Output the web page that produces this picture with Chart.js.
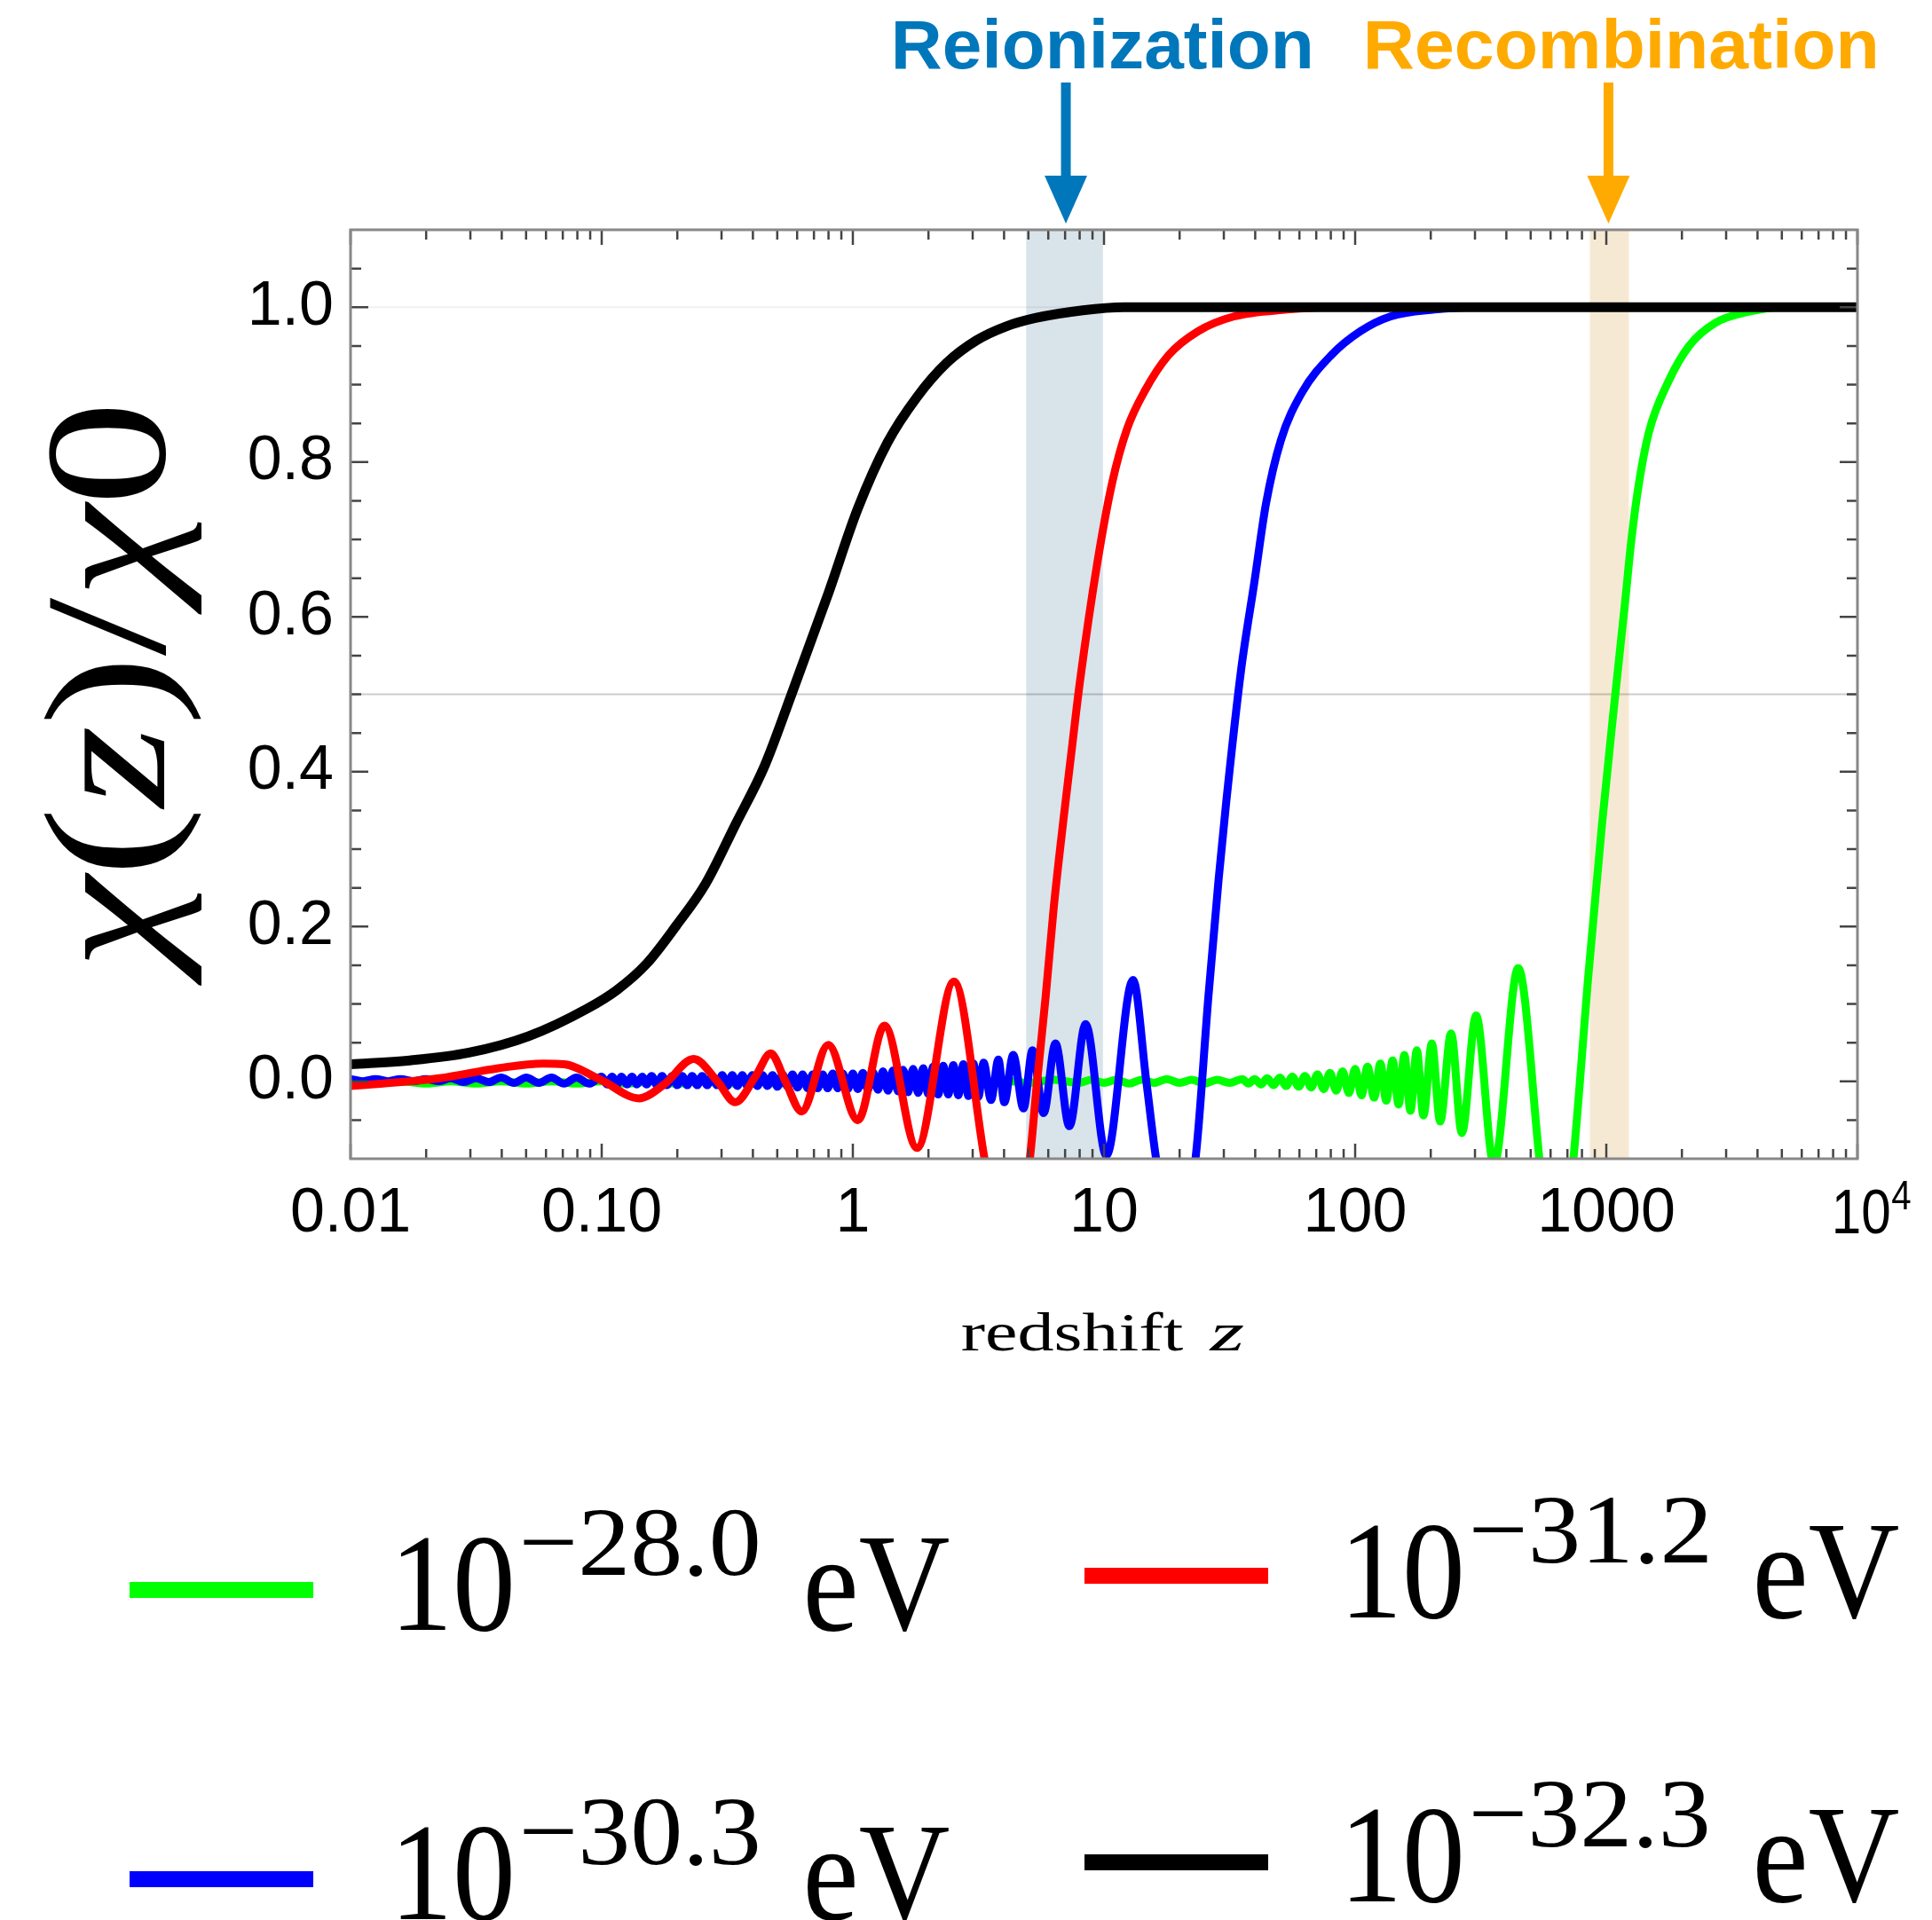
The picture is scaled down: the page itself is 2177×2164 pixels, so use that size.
<!DOCTYPE html>
<html lang="en">
<head>
<meta charset="UTF-8">
<title>chi(z)/chi0 versus redshift</title>
<script src="https://cdn.jsdelivr.net/npm/chart.js"></script>
<style>
  html, body { margin: 0; padding: 0; background: #fff; }
  #wrap { width: 2177px; height: 2164px; position: relative; }
</style>
</head>
<body>
<div id="wrap"><canvas id="chart"></canvas></div>
<script>
// ---- axes ----
const xTickValues = [0.01, 0.1, 1, 10, 100, 1000, 10000];
const xTickLabels = ['0.01', '0.10', '1', '10', '100', '1000', ''];
const xLastBase = '10';
const xLastSup = '4';
const yTickValues = [0, 0.2, 0.4, 0.6, 0.8, 1.0];
const yTickLabels = ['0.0', '0.2', '0.4', '0.6', '0.8', '1.0'];
const yMinorTicks = [-0.05, 0.05, 0.1, 0.15, 0.25, 0.3, 0.35, 0.45, 0.5, 0.55, 0.65, 0.7, 0.75, 0.85, 0.9, 0.95, 1.05];

// ---- shaded epochs ----
const epochNames = ['Reionization', 'Recombination'];
const epochStart = [4.9, 860];
const epochEnd = [9.9, 1230];
const epochArrowZ = [7.05, 1020];

// ---- legend (masses) ----
const massExponents = ['−28.0', '−31.2', '−30.3', '−32.3'];

// ---- series: m = 1e-28.0 eV (green) ----
const greenZ = [
  0.0100, 0.0126, 0.0158, 0.0200, 0.0251, 0.0316, 0.0398, 0.0501, 0.0631, 0.0794,
  0.100, 0.126, 0.158, 0.200, 0.251, 0.316, 0.398, 0.501, 0.631, 0.794,
  1.00, 1.26, 1.58, 2.00, 2.51, 3.16, 3.98, 5.01, 6.31, 7.94,
  8.91, 10.0, 11.2, 12.6, 14.1, 15.8, 17.8, 20.0, 22.4, 25.1, 28.2, 31.6,
  35.5, 37.6, 39.8, 42.2, 44.7, 47.3, 50.1, 53.1, 56.2, 59.6,
  63.1, 66.8, 70.8, 75.0, 79.4, 84.1, 89.1, 94.4, 100, 106,
  112, 119, 126, 133, 141, 149, 157, 166,
  176, 187, 202, 218, 241, 266, 303, 357, 446, 543, 631, 738,
  850, 960, 1070, 1193, 1259, 1348, 1482, 1767, 2137, 2728, 3676, 5000, 10000
];
const greenY = [
  0.000, -0.003, 0.000, -0.003, 0.000, -0.003, 0.000, -0.003, 0.000, -0.003,
  0.000, -0.003, 0.000, -0.003, 0.000, -0.003, 0.000, -0.003, 0.000, -0.003,
  0.000, -0.003, 0.000, -0.003, 0.000, -0.003, 0.001, -0.002, 0.002, -0.002,
  0.002, -0.002, 0.002, -0.003, 0.002, -0.002, 0.003, -0.002, 0.002, -0.003, 0.002, -0.002,
  0.003, -0.003, 0.003, -0.004, 0.004, -0.005, 0.005, -0.006, 0.006, -0.007,
  0.007, -0.008, 0.009, -0.010, 0.011, -0.012, 0.013, -0.015, 0.016, -0.018,
  0.019, -0.021, 0.023, -0.025, 0.027, -0.030, 0.034, -0.038,
  0.040, -0.044, 0.049, -0.052, 0.062, -0.067, 0.085, -0.108, 0.146, -0.104, -0.300, -0.104,
  0.140, 0.330, 0.480, 0.625, 0.700, 0.772, 0.840, 0.904, 0.950, 0.980, 0.994, 1.0, 1.0
];

// ---- series: m = 1e-30.3 eV (blue) ----
const blueZ = [
  0.0100, 0.0112, 0.0126, 0.0141, 0.0158, 0.0178, 0.0200, 0.0224, 0.0251, 0.0282,
  0.0316, 0.0355, 0.0398, 0.0447, 0.0501, 0.0562, 0.0631, 0.0708, 0.0794, 0.0891,
  0.100, 0.105, 0.110, 0.115, 0.120, 0.126, 0.132, 0.138, 0.145, 0.151,
  0.158, 0.166, 0.174, 0.182, 0.191, 0.200, 0.209, 0.219, 0.229, 0.240,
  0.251, 0.263, 0.275, 0.288, 0.302, 0.316, 0.331, 0.347, 0.363, 0.380,
  0.398, 0.417, 0.437, 0.457, 0.479, 0.501, 0.525, 0.550, 0.575, 0.603,
  0.631, 0.661, 0.692, 0.724, 0.759, 0.794, 0.832, 0.871, 0.912, 0.955,
  1.000, 1.047, 1.096, 1.148, 1.202, 1.259, 1.318, 1.380, 1.445, 1.514,
  1.585, 1.660, 1.738, 1.820, 1.905, 1.995, 2.089, 2.188, 2.291, 2.399,
  2.512, 2.630, 2.754, 2.884, 3.020, 3.162,
  3.316, 3.549, 3.798, 4.01, 4.35, 4.78, 5.19, 5.75, 6.41, 7.28, 8.45, 10.22, 13.05, 14.74, 16.2, 19.0,
  23.06, 26.05, 28.6, 30.65, 35.1, 39.7, 44.2, 50.6, 61.2, 80.3, 105, 138, 207, 300, 10000
];
const blueY = [
  0.003, 0.000, 0.003, 0.000, 0.003, 0.000, 0.003, 0.000, 0.004, -0.001,
  0.004, -0.001, 0.005, -0.002, 0.005, -0.002, 0.005, -0.003, 0.005, -0.003,
  0.006, -0.004, 0.006, -0.004, 0.006, -0.004, 0.006, -0.004, 0.006, -0.004,
  0.007, -0.005, 0.007, -0.005, 0.007, -0.005, 0.007, -0.005, 0.007, -0.005,
  0.007, -0.005, 0.007, -0.005, 0.008, -0.006, 0.008, -0.006, 0.008, -0.006,
  0.008, -0.006, 0.008, -0.006, 0.008, -0.007, 0.009, -0.007, 0.009, -0.008,
  0.009, -0.009, 0.009, -0.009, 0.009, -0.009, 0.010, -0.009, 0.010, -0.010,
  0.010, -0.010, 0.011, -0.011, 0.012, -0.011, 0.013, -0.012, 0.014, -0.013,
  0.015, -0.014, 0.016, -0.015, 0.017, -0.016, 0.019, -0.017, 0.020, -0.017,
  0.021, -0.018, 0.022, -0.019, 0.023, -0.020,
  0.024, -0.024, 0.028, -0.027, 0.034, -0.035, 0.040, -0.041, 0.049, -0.058, 0.074, -0.096, 0.131, 0.000, -0.104, -0.200,
  -0.104, 0.110, 0.261, 0.360, 0.530, 0.645, 0.747, 0.828, 0.889, 0.938, 0.969, 0.988, 0.997, 1.0, 1.0
];

// ---- series: m = 1e-31.2 eV (red) ----
const redZ = [
  0.01, 0.0226, 0.0388, 0.0583, 0.0709, 0.1003, 0.1408, 0.1772, 0.2325, 0.2888,
  0.340, 0.4108, 0.4706, 0.5388, 0.6255, 0.798, 1.047, 1.337, 1.801, 2.528,
  3.361, 4.15, 5.05, 5.40, 5.86, 6.31, 6.90, 7.48, 8.01, 9.42,
  10.79, 12.36, 14.54, 18.06, 23.69, 32.8, 53.5, 80, 10000
];
const redY = [
  -0.006, 0.004, 0.017, 0.023, 0.022, 0.001, -0.022, -0.004, 0.029, 0.000,
  -0.027, 0.007, 0.036, 0.000, -0.039, 0.047, -0.050, 0.072, -0.086, 0.129,
  -0.104, -0.250, -0.104, -0.004, 0.110, 0.225, 0.339, 0.435, 0.515, 0.671,
  0.774, 0.843, 0.892, 0.938, 0.969, 0.988, 0.997, 1.0, 1.0
];

// ---- series: m = 1e-32.3 eV (black) ----
const blackZ = [0.01, 0.0172, 0.0296, 0.0509, 0.0876, 0.115, 0.151, 0.198, 0.259, 0.340, 0.446, 0.57,
  0.798, 1.047, 1.373, 1.801, 2.363, 3.10, 4.06, 5.33, 8.23, 12, 20, 10000];
const blackY = [0.022, 0.027, 0.037, 0.058, 0.094, 0.118, 0.152, 0.201, 0.255, 0.331, 0.408, 0.500,
  0.630, 0.740, 0.825, 0.884, 0.928, 0.957, 0.975, 0.986, 0.996, 1.0, 1.0, 1.0];

const SANS = '"Liberation Sans", Arial, Helvetica, sans-serif';
const SERIF = '"Liberation Serif", "Times New Roman", Times, serif';

function pts(zs, ys) {
  return zs.map((z, i) => ({ x: z, y: ys[i] }));
}

// draw text so that its ink box starts at `left` and is `width` wide
function inkText(ctx, text, left, base, width) {
  ctx.textAlign = 'left';
  ctx.textBaseline = 'alphabetic';
  const m = ctx.measureText(text);
  const w = m.actualBoundingBoxLeft + m.actualBoundingBoxRight;
  ctx.save();
  ctx.translate(left, base);
  ctx.scale(width / w, 1);
  ctx.fillText(text, m.actualBoundingBoxLeft, 0);
  ctx.restore();
}

const decor = {
  id: 'decor',
  beforeDatasetsDraw(chart) {
    const { ctx, chartArea: a, scales: { x, y } } = chart;
    ctx.save();
    const fills = ['rgb(217,227,234)', 'rgb(246,233,212)'];
    epochStart.forEach((s, i) => {
      const x0 = x.getPixelForValue(s);
      const x1 = x.getPixelForValue(epochEnd[i]);
      ctx.fillStyle = fills[i];
      ctx.fillRect(x0, a.top, x1 - x0, a.bottom - a.top);
    });
    ctx.lineWidth = 2;
    ctx.strokeStyle = 'rgba(0,0,0,0.2)';
    let py = y.getPixelForValue(0.5);
    ctx.beginPath(); ctx.moveTo(a.left, py); ctx.lineTo(a.right, py); ctx.stroke();
    ctx.strokeStyle = 'rgba(0,0,0,0.06)';
    py = y.getPixelForValue(1.0);
    ctx.beginPath(); ctx.moveTo(a.left, py); ctx.lineTo(a.right, py); ctx.stroke();
    ctx.restore();
  },
  afterDatasetsDraw(chart) {
    const { ctx, chartArea: a, scales: { x, y } } = chart;
    ctx.save();

    // frame ticks, drawn inward
    ctx.strokeStyle = '#444';
    ctx.lineWidth = 2.5;
    ctx.beginPath();
    xTickValues.forEach((d, i) => {
      const px = x.getPixelForValue(d);
      ctx.moveTo(px, a.bottom); ctx.lineTo(px, a.bottom - 17);
      ctx.moveTo(px, a.top); ctx.lineTo(px, a.top + 17);
      if (i < xTickValues.length - 1) {
        for (let k = 2; k <= 9; k++) {
          const mx = x.getPixelForValue(k * d);
          ctx.moveTo(mx, a.bottom); ctx.lineTo(mx, a.bottom - 11);
          ctx.moveTo(mx, a.top); ctx.lineTo(mx, a.top + 11);
        }
      }
    });
    yTickValues.forEach(v => {
      const py = y.getPixelForValue(v);
      ctx.moveTo(a.left, py); ctx.lineTo(a.left + 20, py);
      ctx.moveTo(a.right, py); ctx.lineTo(a.right - 20, py);
    });
    yMinorTicks.forEach(v => {
      const py = y.getPixelForValue(v);
      ctx.moveTo(a.left, py); ctx.lineTo(a.left + 12, py);
      ctx.moveTo(a.right, py); ctx.lineTo(a.right - 12, py);
    });
    ctx.stroke();

    // frame
    ctx.strokeStyle = '#888';
    ctx.lineWidth = 3;
    ctx.strokeRect(a.left, a.top, a.right - a.left, a.bottom - a.top);

    ctx.fillStyle = '#000';
    // last x label: 10^4
    const lx = x.getPixelForValue(10000);
    ctx.font = `70px ${SANS}`;
    inkText(ctx, xLastBase, lx - 25, 1390, 61);
    ctx.font = `46px ${SANS}`;
    inkText(ctx, xLastSup, lx + 39, 1363, 21);

    // x title
    ctx.font = `62px ${SERIF}`;
    inkText(ctx, 'redshift', 1084, 1522, 249);
    ctx.font = `italic 62px ${SERIF}`;
    inkText(ctx, 'z', 1362, 1522, 40);

    // y title, rotated
    const parts = [['χ', 'italic'], ['(', 'normal'], ['z', 'italic'], [')', 'normal'],
                   ['/', 'normal'], ['χ', 'italic'], ['0', 'normal']];
    const size = 195;
    ctx.save();
    ctx.translate(185, 772);
    ctx.rotate(-Math.PI / 2);
    ctx.textAlign = 'left';
    ctx.textBaseline = 'alphabetic';
    let total = 0;
    const widths = parts.map(([t, st]) => {
      ctx.font = `${st} ${size}px ${SERIF}`;
      const w = ctx.measureText(t).width;
      total += w;
      return w;
    });
    ctx.scale(640 / total, 1);
    let tx = -total / 2;
    parts.forEach(([t, st], i) => {
      ctx.font = `${st} ${size}px ${SERIF}`;
      ctx.fillText(t, tx, 0);
      tx += widths[i];
    });
    ctx.restore();

    // epoch labels and arrows
    const epochColors = ['#0077bb', '#ffaa00'];
    const textLeft = [1009, 1541];
    const textWidth = [467, 572];
    ctx.font = `bold 78px ${SANS}`;
    epochNames.forEach((name, i) => {
      ctx.fillStyle = epochColors[i];
      inkText(ctx, name, textLeft[i], 77, textWidth[i]);
      const ax = x.getPixelForValue(epochArrowZ[i]);
      ctx.fillRect(ax - 5.5, 93, 11, 110);
      ctx.beginPath();
      ctx.moveTo(ax - 24, 198); ctx.lineTo(ax + 24, 198); ctx.lineTo(ax, 252);
      ctx.closePath();
      ctx.fill();
    });

    // legend (2 x 2)
    const slots = [
      { sx: 146, sy: 1792, tx: 451, base: 1837 },
      { sx: 1222, sy: 1776, tx: 1521, base: 1823 },
      { sx: 146, sy: 2118, tx: 451, base: 2163 },
      { sx: 1222, sy: 2099, tx: 1521, base: 2143 }
    ];
    const order = [3, 1, 2, 0]; // dataset index for green, red, blue, black
    slots.forEach((s, i) => {
      ctx.fillStyle = chart.data.datasets[order[i]].borderColor;
      ctx.fillRect(s.sx, s.sy - 9, 207, 18);
      ctx.fillStyle = '#000';
      ctx.font = `157px ${SERIF}`;
      inkText(ctx, '10', s.tx, s.base, 125);
      ctx.font = `111px ${SERIF}`;
      inkText(ctx, massExponents[i], s.tx + 139, s.base - 62, 264);
      ctx.font = `157px ${SERIF}`;
      inkText(ctx, 'eV', s.tx + 459, s.base, 159);
    });

    ctx.restore();
  }
};

const lineStyle = {
  showLine: true,
  pointRadius: 0,
  borderWidth: 9,
  cubicInterpolationMode: 'monotone',
  borderJoinStyle: 'round',
  borderCapStyle: 'round',
  clip: 0
};

new Chart(document.getElementById('chart'), {
  type: 'scatter',
  data: {
    datasets: [
      { ...lineStyle, label: '10^-32.3 eV', data: pts(blackZ, blackY), borderColor: '#000000', borderWidth: 11 },
      { ...lineStyle, label: '10^-31.2 eV', data: pts(redZ, redY), borderColor: '#ff0000' },
      { ...lineStyle, label: '10^-30.3 eV', data: pts(blueZ, blueY), borderColor: '#0000ff' },
      { ...lineStyle, label: '10^-28.0 eV', data: pts(greenZ, greenY), borderColor: '#00ff00' }
    ]
  },
  options: {
    responsive: true,
    maintainAspectRatio: false,
    animation: false,
    layout: { padding: { left: 0, top: 259, right: 84, bottom: 0 } },
    plugins: { legend: { display: false }, tooltip: { enabled: false } },
    scales: {
      x: {
        type: 'logarithmic',
        min: 0.01,
        max: 10000,
        grid: { display: false, drawTicks: false, tickLength: 0 },
        border: { display: false },
        afterBuildTicks: s => { s.ticks = xTickValues.map(v => ({ value: v })); },
        afterFit: s => { s.height = 858; },
        ticks: {
          autoSkip: false, maxRotation: 0, minRotation: 0, padding: 21, color: '#000',
          font: { family: SANS, size: 70 },
          callback: (v, i) => xTickLabels[i]
        }
      },
      y: {
        min: -0.1,
        max: 1.1,
        grid: { display: false, drawTicks: false, tickLength: 0 },
        border: { display: false },
        afterBuildTicks: s => { s.ticks = yTickValues.map(v => ({ value: v })); },
        afterFit: s => { s.width = 395; },
        ticks: {
          autoSkip: false, padding: 19, color: '#000',
          font: { family: SANS, size: 70 },
          callback: (v, i) => yTickLabels[i]
        }
      }
    }
  },
  plugins: [decor]
});
</script>
</body>
</html>
